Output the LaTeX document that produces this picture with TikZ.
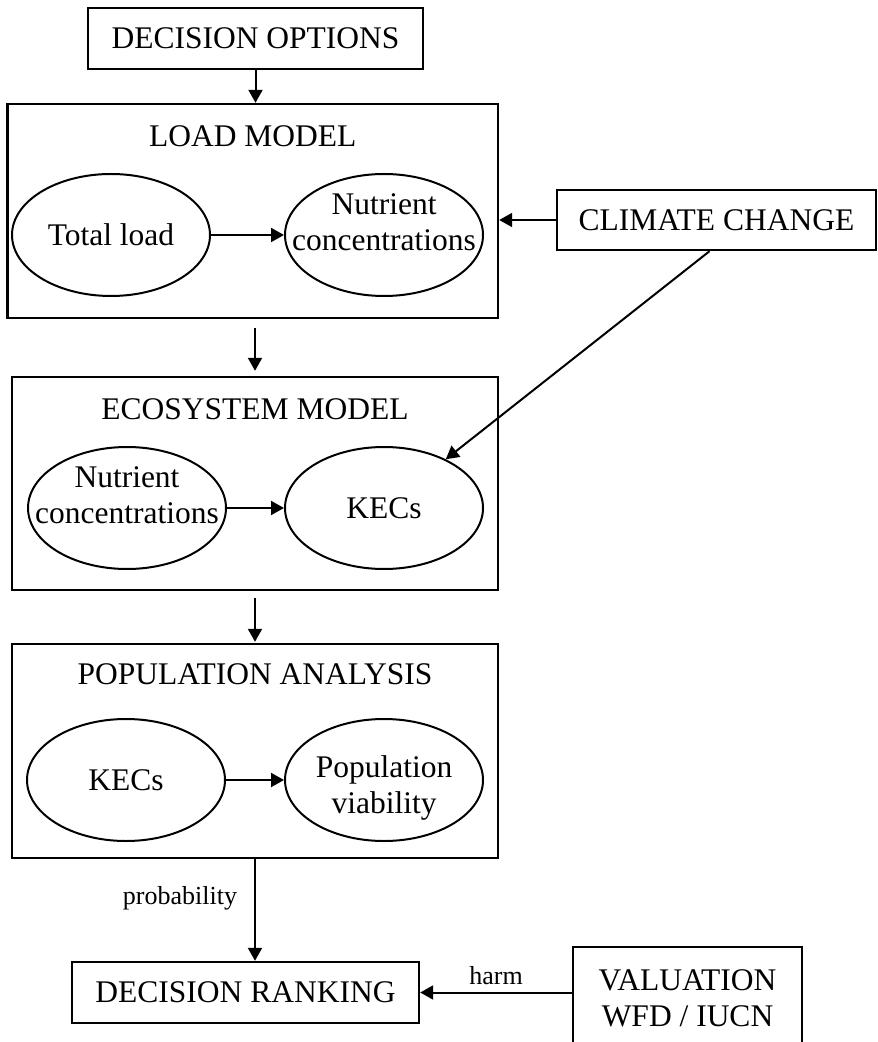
\documentclass[tikz,border=0pt]{standalone}
\usepackage{fontspec}
\setmainfont{Liberation Serif}
\usetikzlibrary{shapes.geometric, arrows.meta, positioning}

\begin{document}
\begin{tikzpicture}[
  x=0.5pt, y=-0.5pt,
  box/.style={rectangle, draw, line width=1.2pt, inner sep=0pt,
              align=center, font=\fontsize{15.75}{18}\selectfont},
  frame/.style={rectangle, draw, line width=1.2pt, inner sep=0pt},
  title/.style={font=\fontsize{15.75}{18}\selectfont},
  oval/.style={ellipse, draw, line width=1pt,
               minimum width=99pt, minimum height=61pt,
               inner xsep=-12pt, inner ysep=0pt, align=center,
               font=\fontsize{15.75}{18}\selectfont},
  arrow/.style={-{Triangle[length=6.5pt, width=7pt]}, line width=1pt},
  lbl/.style={inner sep=0pt, font=\fontsize{13}{15}\selectfont},
]
  \useasboundingbox (0,0) rectangle (877,1042);
  \clip (0,0) rectangle (877,1042);

  \node[box, minimum width=167.5pt, minimum height=30.5pt] (options) at (255.5,38.5) {DECISION OPTIONS};
  \node[box, minimum width=159.5pt, minimum height=30pt]   (climate) at (716.5,220)  {CLIMATE CHANGE};
  \node[box, minimum width=173.5pt, minimum height=30.5pt] (rank)    at (245.5,992.5) {DECISION RANKING};
  \node[box, minimum width=114.5pt, minimum height=51.5pt] (value)   at (687.5,998.5) {VALUATION\\WFD / IUCN};

  \node[frame, minimum width=245.25pt, minimum height=107pt]  (load) at (252.75,211) {};
  \node[frame, minimum width=243pt,    minimum height=106.5pt] (eco) at (255,483.5) {};
  \node[frame, minimum width=243pt,    minimum height=107pt]  (pop)  at (255,751) {};

  \node[title] (loadtitle) at ([yshift=-16.5pt]load.north) {LOAD MODEL};
  \node[title] (ecotitle)  at ([yshift=-16.5pt]eco.north)  {ECOSYSTEM MODEL};
  \node[title] (poptitle)  at ([yshift=-15.5pt]pop.north)  {POPULATION ANALYSIS};

  \node[oval] (total) at (111,235) {Total load};
  \node[oval, text depth=12.5pt] (nutr)  at (384,235) {Nutrient\\concentrations};
  \node[oval, text depth=12.5pt] (nutr2) at (127,508) {Nutrient\\concentrations};
  \node[oval] (kecs)  at (384,508) {KECs};
  \node[oval] (kecs2) at (126,780) {KECs};
  \node[oval, text height=36.4pt] (viab) at (384,780) {Population\\viability};

  \draw[arrow] (options) -- (options |- load.north);
  \draw[arrow] (total) -- (nutr);
  \draw[arrow] (climate) -- (climate -| load.east);
  \draw[arrow] ([xshift=-3.5pt]climate.south) -- (kecs);
  \draw[arrow, shorten <=4.5pt, shorten >=2.5pt] (load.south -| eco.north) -- (eco.north);
  \draw[arrow] (nutr2) -- (kecs);
  \draw[arrow, shorten <=3.5pt, shorten >=0.5pt] (eco.south) -- (pop.north);
  \draw[arrow] (kecs2) -- (viab);
  \draw[arrow] (pop.south) -- node[lbl, left=8.5pt, pos=0.385] {probability} (pop.south |- rank.north);
  \draw[arrow] (rank -| value.west) -- node[lbl, above=3.5pt] {harm} (rank.east);
\end{tikzpicture}
\end{document}
